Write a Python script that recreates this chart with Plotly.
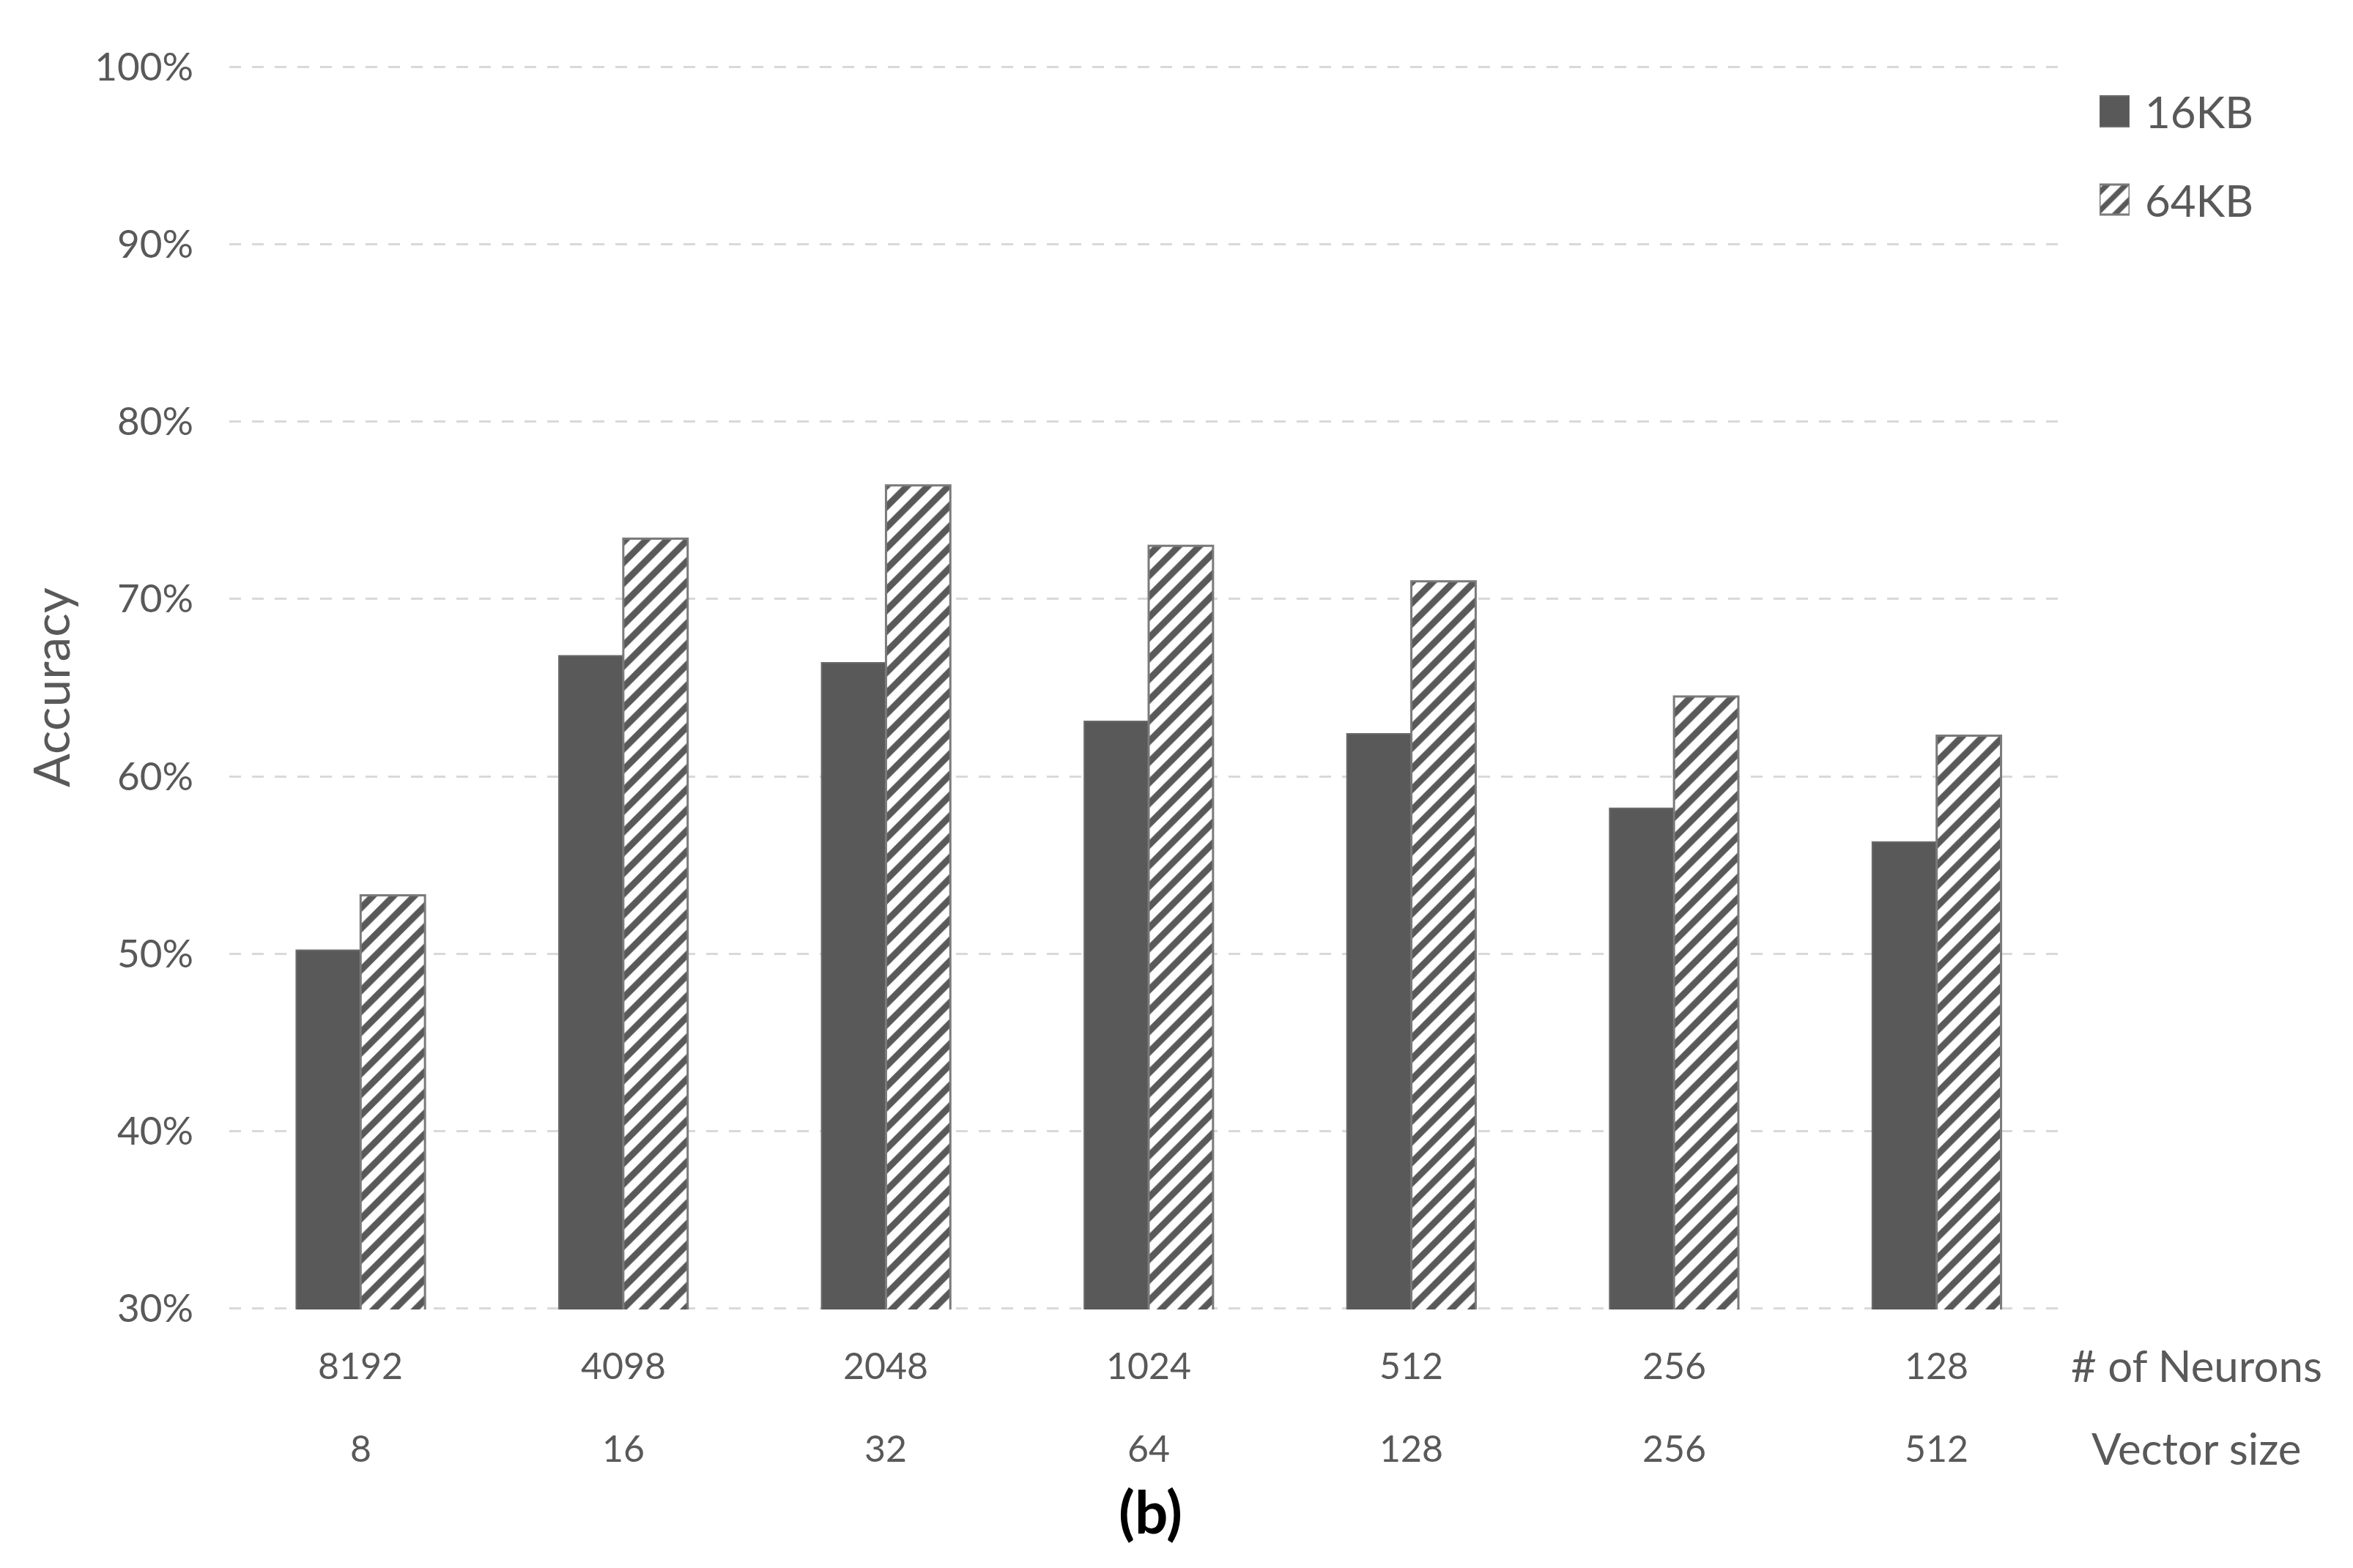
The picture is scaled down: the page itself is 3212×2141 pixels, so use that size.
import plotly.graph_objects as go

neurons = ["8192", "4098", "2048", "1024", "512", "256", "128"]
vector_size = ["8", "16", "32", "64", "128", "256", "512"]
acc_16kb = [50.2, 66.8, 66.4, 63.1, 62.4, 58.2, 56.3]
acc_64kb = [53.3, 73.4, 76.4, 73.0, 71.0, 64.5, 62.3]
y_ticks = [30, 40, 50, 60, 70, 80, 90, 100]
series_names = ["16KB", "64KB"]

W, H = 3212, 2141
OFF = 8  # page offset of the plot div
PL, PR, PT, PB = 313 - OFF, 2823 - OFF, 90 - OFF, 1788 - OFF  # plot area in pixels
FONT = "Lato"
TXT = "#595959"
DARK = "#595959"

AW = W - PL
AH = PB - PT
px_x = lambda p: (p - OFF - PL) / AW
px_y = lambda p: 1 - (p - OFF - PT) / AH

xpos = list(range(len(neurons)))  # category index positions

solid_marker = dict(color=DARK, line=dict(color="#6a6a6a", width=2))
def hatch_marker(size, solidity):
    return dict(color="white", line=dict(color="#7a7a7a", width=3),
                pattern=dict(shape="/", fgcolor=DARK, bgcolor="white", fgopacity=1,
                             size=size, solidity=solidity))

fig = go.Figure()
fig.add_trace(go.Bar(x=xpos, y=acc_16kb, name=series_names[0],
                     marker=solid_marker, showlegend=False))
fig.add_trace(go.Bar(x=xpos, y=acc_64kb, name=series_names[1],
                     marker=hatch_marker(20, 0.45), showlegend=False))

# custom legend swatches (bars on a small helper axis measured in pixels)
LEG_TOP, LEG_BOT = 110, 320
SW_X0, SW_X1 = 2866, 2907
sw_rows = [(131, 173), (252, 293)]
for (y0, y1), mk in zip(sw_rows, [solid_marker, hatch_marker(18, 0.4)]):
    fig.add_trace(go.Bar(x=[0.5], y=[y1 - y0], base=[H - y1], width=[1], offset=-0.5,
                         marker=mk, xaxis="x2", yaxis="y2", showlegend=False,
                         hoverinfo="skip"))

annotations = []
for xp, n, v in zip(xpos, neurons, vector_size):
    annotations.append(dict(x=xp, xref="x", y=px_y(1864), yref="paper", text=n,
                            showarrow=False, font=dict(family=FONT, size=50, color=TXT),
                            xanchor="center", yanchor="middle"))
    annotations.append(dict(x=xp, xref="x", y=px_y(1977), yref="paper", text=v,
                            showarrow=False, font=dict(family=FONT, size=50, color=TXT),
                            xanchor="center", yanchor="middle"))
annotations.append(dict(x=px_x(2998), xref="paper", y=px_y(1864), yref="paper",
                        text="# of Neurons", showarrow=False, xanchor="center",
                        font=dict(family=FONT, size=60, color=TXT), yanchor="middle"))
annotations.append(dict(x=px_x(2998), xref="paper", y=px_y(1977), yref="paper",
                        text="Vector size", showarrow=False, xanchor="center",
                        font=dict(family=FONT, size=60, color=TXT), yanchor="middle"))
annotations.append(dict(x=px_x(1570), xref="paper", y=px_y(2063), yref="paper",
                        text="<b>(b)</b>", showarrow=False, xanchor="center",
                        font=dict(family=FONT, size=80, color="black"), yanchor="middle"))
annotations.append(dict(x=px_x(68), xref="paper", y=px_y(939), yref="paper",
                        text="Accuracy", showarrow=False, textangle=-90,
                        font=dict(family=FONT, size=68, color=TXT),
                        xanchor="center", yanchor="middle"))
for name, (y0, y1) in zip(series_names, sw_rows):
    annotations.append(dict(x=px_x(2926), xref="paper", y=px_y((y0 + y1) / 2), yref="paper",
                            text=name, showarrow=False, xanchor="left", yanchor="middle",
                            font=dict(family=FONT, size=60, color=TXT)))

fig.update_layout(
    width=W, height=H,
    margin=dict(l=PL, r=0, t=PT, b=H - PB, autoexpand=False),
    paper_bgcolor="white", plot_bgcolor="white",
    barmode="group", bargap=0.51, bargroupgap=0,
    font=dict(family=FONT, color=TXT),
    showlegend=False,
    annotations=annotations,
    xaxis=dict(domain=[0, (PR - PL) / AW], range=[-0.5, len(neurons) - 0.5],
               showticklabels=False, showgrid=False, zeroline=False, showline=False,
               ticks="", fixedrange=True),
    yaxis=dict(range=[29.95, 100.05], tickvals=y_ticks,
               ticktext=[f"{t}%" for t in y_ticks],
               tickfont=dict(family=FONT, size=53, color=TXT),
               showgrid=True, gridcolor="#d9d9d9", gridwidth=3, griddash="16px,15px",
               zeroline=False, showline=False, ticks="", ticklabelstandoff=48,
               fixedrange=True),
    xaxis2=dict(domain=[px_x(SW_X0), px_x(SW_X1)], range=[0, 1], anchor="y2",
                visible=False, fixedrange=True),
    yaxis2=dict(domain=[px_y(LEG_BOT), px_y(LEG_TOP)], range=[H - LEG_BOT, H - LEG_TOP],
                anchor="x2", visible=False, fixedrange=True),
)

fig.write_html("out.html")
